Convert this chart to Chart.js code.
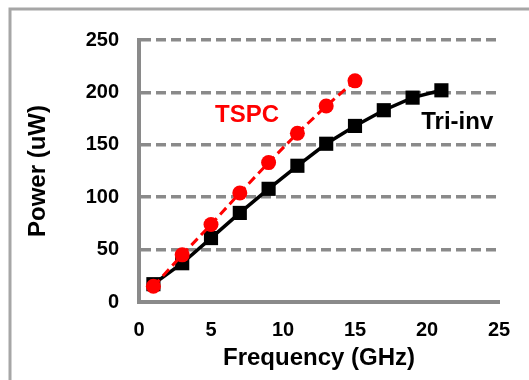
<!DOCTYPE html>
<html>
<head>
<meta charset="utf-8">
<script src="https://cdn.jsdelivr.net/npm/chart.js@4.4.1/dist/chart.umd.min.js"></script>
<style>
  html, body { margin: 0; padding: 0; background: #fff; }
  #wrap { width: 529px; height: 380px; }
</style>
</head>
<body>
<div id="wrap"><canvas id="powerChart" width="529" height="380"></canvas></div>
<script>
// frequency points (GHz)
const triInvFreq = [1, 3, 5, 7, 9, 11, 13, 15, 17, 19, 21];
const triInvPower = [17, 37, 61, 85, 108, 130, 151, 168, 183, 195, 202];
const tspcFreq = [1, 3, 5, 7, 9, 11, 13, 15];
const tspcPower = [15, 45, 74, 104, 133, 161, 187, 211];
const xTicks = [0, 5, 10, 15, 20, 25];
const yTicks = [0, 50, 100, 150, 200, 250];

const FONT = "'Liberation Sans', Arial, sans-serif";
const GRAY = "#8a8a8a";

// series labels placed next to the lines (data coords)
const seriesLabels = [
  { text: "TSPC", x: 7.5, y: 178, color: "#ff0000" },
  { text: "Tri-inv", x: 22.1, y: 171, color: "#000000" },
];

const toPoints = (xs, ys) => xs.map((x, i) => ({ x: x, y: ys[i] }));

// outer frame + inline labels
const extras = {
  id: "extras",
  beforeDraw(chart) {
    const ctx = chart.ctx;
    ctx.save();
    ctx.strokeStyle = "#a6a6a6";
    ctx.lineWidth = 3;
    ctx.strokeRect(10, 9, 700, 700);
    ctx.restore();
  },
  afterDatasetsDraw(chart) {
    const ctx = chart.ctx;
    const xs = chart.scales.x;
    const ys = chart.scales.y;
    ctx.save();
    ctx.font = "bold 24px " + FONT;
    ctx.textAlign = "center";
    ctx.textBaseline = "middle";
    seriesLabels.forEach((l) => {
      ctx.fillStyle = l.color;
      ctx.fillText(l.text, xs.getPixelForValue(l.x), ys.getPixelForValue(l.y));
    });
    ctx.restore();
  },
};

new Chart(document.getElementById("powerChart").getContext("2d"), {
  type: "line",
  data: {
    datasets: [
      {
        label: "TSPC",
        data: toPoints(tspcFreq, tspcPower),
        borderColor: "#ff0000",
        backgroundColor: "#ff0000",
        borderWidth: 3,
        borderDash: [9, 5],
        pointStyle: "circle",
        pointRadius: 7.5,
        pointBorderWidth: 0,
        tension: 0,
      },
      {
        label: "Tri-inv",
        data: toPoints(triInvFreq, triInvPower),
        borderColor: "#000000",
        backgroundColor: "#000000",
        borderWidth: 3.5,
        pointStyle: "rect",
        pointRadius: 10,
        pointBorderWidth: 0,
        tension: 0,
      },
    ],
  },
  options: {
    responsive: false,
    animation: false,
    layout: { padding: { top: 40, right: 30, left: 0, bottom: 0 } },
    plugins: {
      legend: { display: false },
      tooltip: { enabled: false },
    },
    scales: {
      x: {
        type: "linear",
        min: 0,
        max: 25,
        afterBuildTicks: (s) => { s.ticks = xTicks.map((v) => ({ value: v })); },
        afterFit: (s) => { s.height = 78; },
        grid: { display: false },
        border: { display: true, color: GRAY, width: 4 },
        ticks: {
          color: "#000",
          padding: 8,
          font: { family: FONT, size: 20, weight: "bold" },
        },
        title: {
          display: true,
          text: "Frequency (GHz)",
          color: "#000",
          padding: { top: 6, bottom: 7 },
          font: { family: FONT, size: 24, weight: "bold" },
        },
      },
      y: {
        min: 0,
        max: 250,
        afterBuildTicks: (s) => { s.ticks = yTicks.map((v) => ({ value: v })); },
        afterFit: (s) => { s.width = 139; },
        grid: {
          color: GRAY,
          lineWidth: 3.5,
          drawTicks: false,
        },
        border: { display: true, color: GRAY, width: 4, dash: [10, 5] },
        ticks: {
          color: "#000",
          padding: 20,
          font: { family: FONT, size: 20, weight: "bold" },
        },
        title: {
          display: true,
          text: "Power (uW)",
          color: "#000",
          padding: { top: 24, bottom: 0 },
          font: { family: FONT, size: 24, weight: "bold" },
        },
      },
    },
  },
  plugins: [extras],
});
</script>
</body>
</html>
